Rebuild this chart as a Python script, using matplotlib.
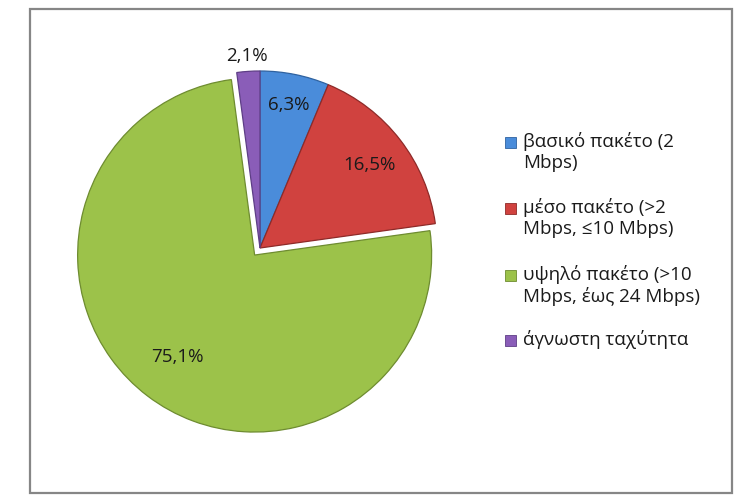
import matplotlib
matplotlib.use("Agg")
import matplotlib.pyplot as plt
import numpy as np
from matplotlib.patches import Rectangle

plt.rcParams['font.family'] = ['Open Sans', 'Noto Sans', 'DejaVu Sans']

# data
categories = ["βασικό πακέτο (2\nMbps)",
              "μέσο πακέτο (>2\nMbps, ≤10 Mbps)",
              "υψηλό πακέτο (>10\nMbps, έως 24 Mbps)",
              "άγνωστη ταχύτητα"]
values = [6.3, 16.5, 75.1, 2.1]
value_labels = ["6,3%", "16,5%", "75,1%", "2,1%"]

colors = ['#4A8CDA', '#D0423F', '#9CC24A', '#8A5DB8']
edges = ['#2F62A0', '#8E2A28', '#6E8C30', '#5E3E86']
explode = [0, 0, 0.05, 0]
label_dist = [0.83, 0.78, 0.72, 1.09]

W, H = 741, 502
fig = plt.figure(figsize=(W / 100, H / 100), dpi=100)

# pie placement (pixels)
cx, cy, R, lim = 260, 249, 177, 1.3
half = R * lim
ax = fig.add_axes([(cx - half) / W, (H - cy - half) / H, 2 * half / W, 2 * half / H])

wedges, _ = ax.pie(values, colors=colors, startangle=90, counterclock=False,
                   explode=explode,
                   wedgeprops=dict(linewidth=0.9))
for w, ec in zip(wedges, edges):
    w.set_edgecolor(ec)

for w, lab, d in zip(wedges, value_labels, label_dist):
    th = np.deg2rad((w.theta1 + w.theta2) / 2)
    x0, y0 = w.center
    ax.text(x0 + d * np.cos(th), y0 + d * np.sin(th), lab,
            ha='center', va='center', fontsize=13.5, color='#1a1a1a')

ax.set_xlim(-lim, lim)
ax.set_ylim(-lim, lim)
ax.set_aspect('equal')
ax.axis('off')

# legend (manual, handle aligned with first text line)
leg_x_box, leg_x_text = 505, 523
first_line_y = [143, 209, 276, 341]
sq = 11
for c, ec, lab, ly in zip(colors, edges, categories, first_line_y):
    fig.patches.append(Rectangle(((leg_x_box) / W, (H - ly - sq / 2) / H), sq / W, sq / H,
                                 transform=fig.transFigure, facecolor=c,
                                 edgecolor=ec, linewidth=0.6))
    fig.text(leg_x_text / W, (H - ly + 11) / H, lab, ha='left', va='top',
             fontsize=13.5, color='#1a1a1a', linespacing=1.22)

# chart frame
fig.patches.append(Rectangle((30 / W, (H - 494) / H), (732 - 30) / W, (494 - 10) / H,
                             transform=fig.transFigure, fill=False,
                             edgecolor='#868686', linewidth=1.6))

fig.savefig("out.png", dpi=100)
